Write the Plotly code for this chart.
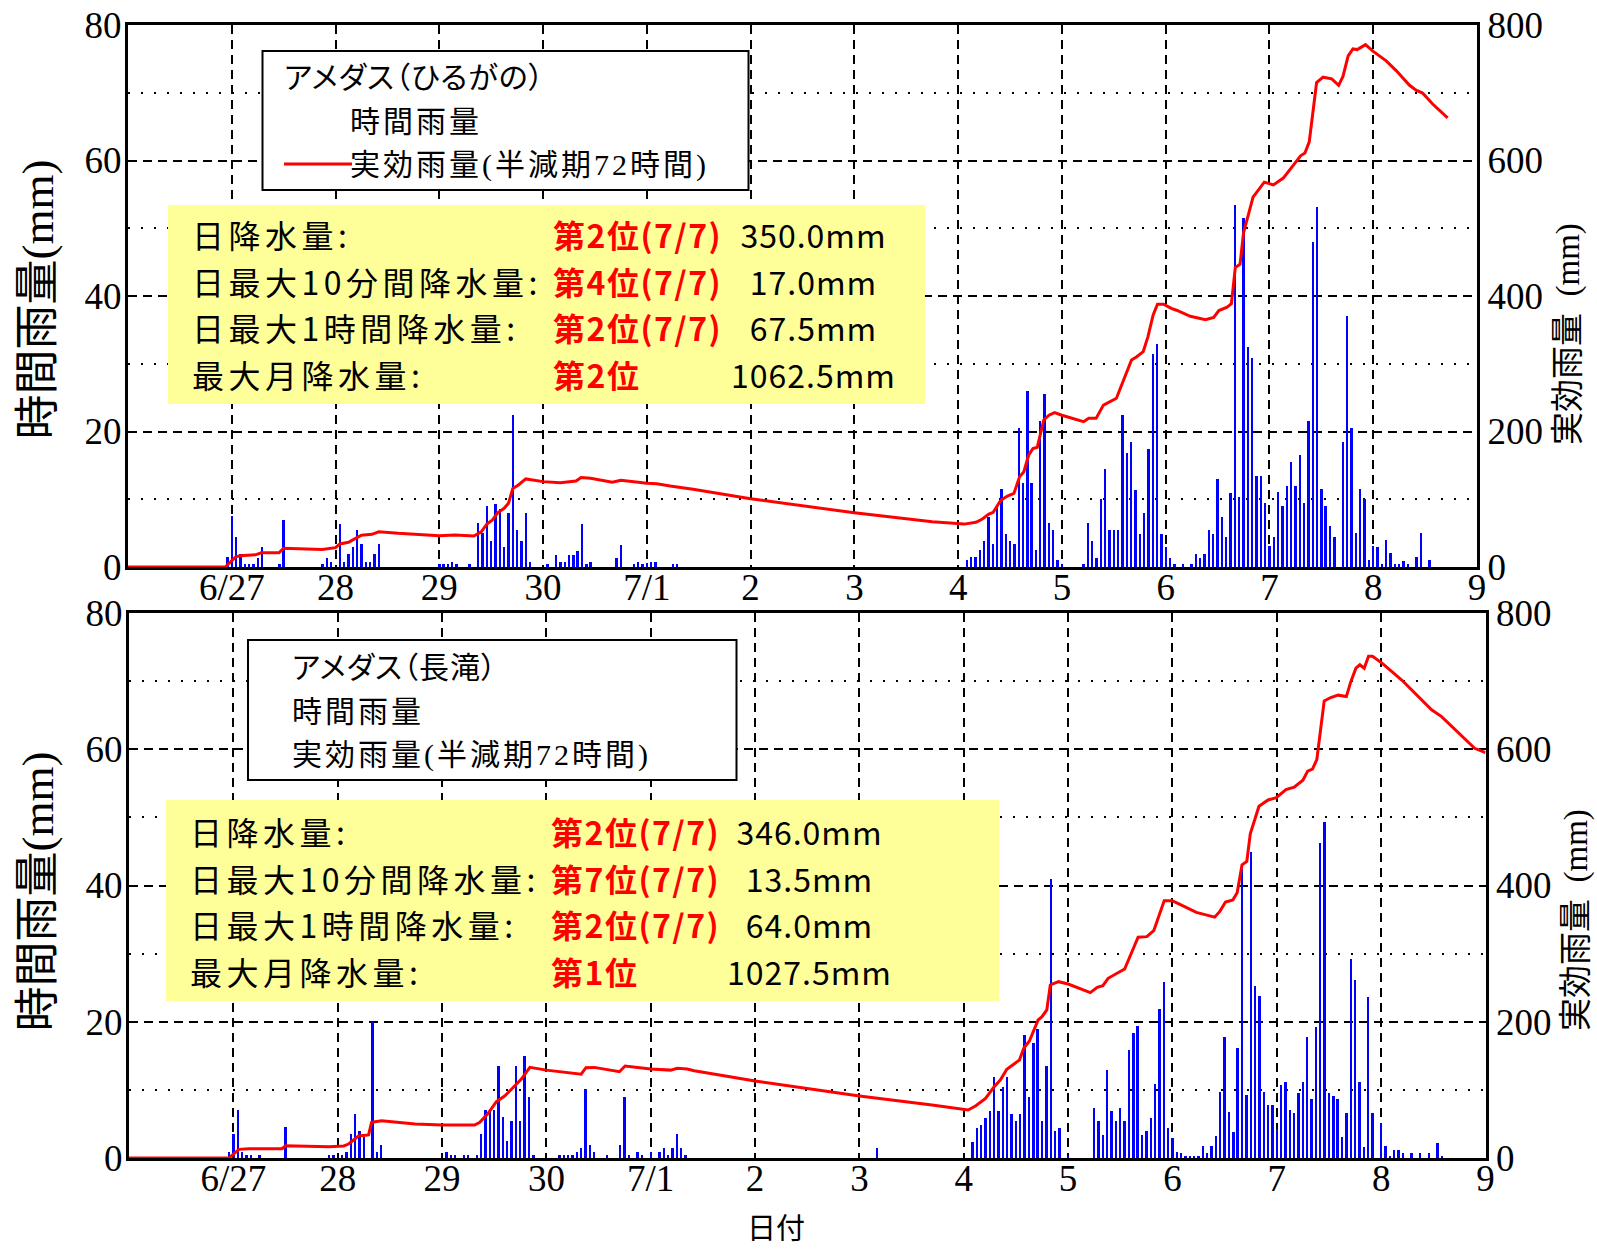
import pandas as pd
import plotly.graph_objects as go

# ---------------------------------------------------------------------------
# Data: hours are counted from 2020-06-26 00:00
# ---------------------------------------------------------------------------
START = pd.Timestamp("2020-06-26")

day_ticks = pd.date_range("2020-06-27", "2020-07-09", freq="D")
day_labels = ["6/27", "28", "29", "30", "7/1", "2", "3", "4", "5", "6", "7", "8", "9"]

# AMeDAS Hirugano - hourly rainfall (mm)
hiru_hour = [23,
             24, 25, 26, 27, 28, 29, 30, 31, 35, 36,
             45, 46, 47,
             49, 50, 51, 52, 53, 54, 55, 56, 57, 58,
             72, 73, 74, 75, 76, 79, 81, 82, 83, 84, 85, 86, 87, 88, 89, 90, 91, 92, 93,
             97, 99, 100, 101, 102, 103, 104, 105, 106, 107, 113, 114, 117, 118, 119,
             120, 121, 122, 126, 127,
             194, 195, 196, 197, 198, 199, 200, 201, 202, 203, 204, 205, 206, 207, 208,
             209, 210, 211, 212, 213, 214, 215,
             216, 221, 222, 223, 224, 225, 226, 227, 228, 229, 230, 231, 232, 233, 234,
             235, 236, 237, 238, 239,
             240, 241, 242, 244, 246, 247, 248, 249, 250, 251, 252, 253, 254, 255, 256,
             257, 258, 259, 260, 261, 262, 263,
             264, 265, 266, 267, 268, 269, 270, 271, 272, 273, 274, 275, 276, 277, 278,
             279, 281, 282, 283, 284, 285, 286, 287,
             288, 289, 290, 291, 292, 293, 294, 295, 296, 298, 299, 301]
hiru_rain = [1.5,
             7.6, 4.5, 1.9, 0.4, 0.4, 0.4, 1.4, 3.0, 0.4, 7.0,
             0.4, 1.3, 0.8,
             6.4, 0.8, 1.9, 2.9, 5.4, 3.4, 0.8, 0.8, 1.9, 3.4,
             0.4, 0.4, 0.4, 0.8, 0.4, 0.4, 6.5, 5.0, 9.0, 3.9, 9.3, 8.6, 2.9, 7.9, 22.5, 5.4, 3.9, 7.9, 0.8,
             0.4, 1.8, 0.8, 0.8, 1.8, 1.8, 2.3, 6.4, 0.4, 0.8, 1.3, 3.3, 0.4, 0.8, 0.4,
             0.6, 0.8, 0.8, 0.4, 0.4,
             1.0, 1.5, 1.5, 2.5, 3.9, 7.4, 3.4, 9.0, 11.5, 4.9, 3.9, 3.4, 20.5, 12.4, 26.0,
             12.4, 2.5, 21.5, 25.5, 6.5, 5.4, 1.0,
             0.5, 0.5, 6.5, 3.9, 1.4, 10.0, 14.4, 5.4, 5.4, 5.4, 22.4, 16.9, 18.4, 11.4, 4.9,
             7.9, 17.4, 31.4, 32.9, 4.9,
             2.9, 1.3, 0.4, 0.4, 0.4, 1.9, 1.4, 1.9, 5.4, 4.9, 13.0, 7.4, 4.4, 10.9, 53.5,
             10.4, 51.5, 32.5, 30.9, 13.4, 13.4, 9.5,
             3.1, 4.4, 11.0, 9.0, 12.0, 15.5, 12.0, 16.5, 9.5, 21.5, 48.0, 53.1, 11.5, 9.0, 6.0,
             4.5, 18.5, 37.0, 20.5, 5.0, 11.5, 10.0, 1.0,
             3.1, 3.0, 0.5, 4.0, 2.0, 0.5, 0.5, 0.9, 0.5, 1.5, 5.0, 1.0]

# AMeDAS Hirugano - effective rainfall, half-life 72 h (mm)
hiru_eff_hour = [0, 22.5, 24.9, 26, 29.5, 30.8, 34.9, 36, 44.9, 48, 49, 51, 52, 54, 56.4,
                 58, 62.5, 72, 75.6, 80, 81.7, 83, 84.3, 85.5, 87, 88, 89, 90.3, 92, 96,
                 100, 103.6, 104.8, 107, 112, 114, 120, 122.3, 125.4, 130.7, 144, 168,
                 186, 192, 193.4, 196.1, 197.6, 199.1, 200.1, 201.8, 203.4, 204.9, 206.2,
                 207.2, 208.3, 209.3, 210.3, 211.8, 213, 214.3, 216, 221, 222.2, 223.9,
                 225.6, 228.6, 229.8, 232.1, 233.3, 234.8, 235.9, 237.1, 238.1, 239.5,
                 241.3, 242.5, 245.7, 249.2, 251.1, 252.3, 254.2, 255.2, 256.1, 257.2,
                 258, 260.2, 262.8, 264.9, 267.2, 269.5, 271.2, 272.2, 273.2, 274.9,
                 276.4, 278.4, 280, 281, 282.2, 283.3, 284.3, 286.2, 288, 291, 293.3,
                 296.4, 297.9, 299.4, 301.8, 305.2]
hiru_eff = [0, 0, 15, 16.7, 18, 21, 21, 27.6, 26, 28.5, 34, 36.4, 40, 46.8, 48.2,
            52, 49.7, 46.3, 47.2, 45.8, 52, 63.5, 69.4, 80, 86.6, 94, 116, 121, 130, 126,
            124.5, 127, 132, 131, 125, 128, 123.5, 123, 119.6, 114.7, 100.8, 80,
            66.9, 63.5, 63.3, 66, 70.8, 78, 80.7, 98, 104.8, 108.7, 133,
            140.7, 165, 175, 176.7, 217, 224, 227.8, 224, 214.5, 219.4, 219.4,
            239, 249, 268.6, 305.5, 310.4, 317.8, 340, 372, 388, 388,
            381.8, 379, 370, 365, 368.4, 378.5, 383.6, 388.6, 442, 447,
            493, 546, 568, 564, 574, 592, 607, 611, 627.5, 715,
            723, 720.5, 711, 724, 754.5, 764.7, 763.7, 771, 761, 747, 732.7,
            711, 703.7, 699.6, 683, 663]

# AMeDAS Nagataki - hourly rainfall (mm)
naga_hour = [23,
             24, 25, 26, 27, 28, 30, 36,
             46, 47,
             49, 50, 51, 52, 53, 54, 56, 57, 58,
             73, 74, 75, 77, 78, 80, 81, 82, 83, 84, 85, 86, 87, 88, 89, 90, 91, 92, 93,
             99, 100, 101, 102, 103, 104, 105, 106, 107, 110, 113, 114, 115, 117, 118,
             120, 122, 123, 124, 125, 126, 127, 128,
             172,
             194, 195, 196, 197, 198, 199, 200, 201, 202, 203, 204, 205, 206, 207, 208,
             209, 210, 211, 212, 213, 214,
             216, 222, 223, 224, 225, 226, 227, 228, 229, 230, 231, 232, 233, 234, 235,
             236, 237, 238, 239,
             240, 241, 242, 243, 244, 245, 246, 247, 248, 249, 250, 251, 252, 253, 254,
             255, 256, 257, 258, 259, 260, 261, 262, 263,
             264, 265, 266, 267, 268, 269, 270, 271, 272, 273, 274, 275, 276, 277, 278,
             279, 280, 281, 282, 283, 284, 285, 286,
             288, 289, 290, 291, 292, 293, 295, 297, 299, 301, 302]
naga_rain = [0.9,
             3.5, 7.0, 0.9, 0.4, 0.4, 0.4, 4.5,
             0.4, 0.4,
             0.4, 0.9, 3.5, 6.4, 3.9, 3.1, 20.0, 0.9, 1.9,
             0.9, 0.4, 0.4, 0.4, 0.4, 0.4, 3.5, 7.0, 7.0, 7.0, 13.5, 6.0, 2.5, 5.4, 13.5, 5.4, 15.0, 9.0, 0.4,
             0.4, 0.4, 0.4, 0.4, 0.9, 1.4, 10.1, 1.9, 0.9, 0.4, 1.9, 9.0, 0.4, 0.9, 0.4,
             0.9, 0.9, 1.4, 0.4, 1.4, 3.5, 1.4, 0.4,
             1.5,
             2.4, 4.4, 4.9, 5.8, 6.9, 11.9, 6.9, 10.4, 11.9, 6.4, 5.4, 6.4, 18.0, 8.9, 16.9,
             18.9, 5.4, 13.5, 41.0, 3.9, 4.4,
             0.3, 7.4, 5.4, 3.4, 12.9, 6.9, 5.4, 7.4, 5.4, 15.9, 18.4, 19.4, 3.4, 3.9, 5.8,
             10.9, 21.9, 25.9, 4.4,
             2.9, 0.9, 0.8, 0.3, 0.3, 0.3, 0.3, 1.7, 0.8, 1.7, 3.2, 9.7, 17.8, 6.8, 3.8,
             16.2, 43.0, 9.3, 44.9, 25.3, 23.8, 9.7, 7.8, 7.8,
             4.2, 10.7, 11.2, 7.1, 6.6, 9.6, 11.2, 17.7, 8.6, 19.2, 46.3, 49.3, 9.6, 9.1, 8.6,
             3.1, 6.6, 29.2, 26.1, 11.2, 1.6, 23.7, 6.6,
             5.2, 1.7, 0.3, 1.2, 1.2, 0.8, 0.8, 0.8, 0.8, 2.2, 0.3]

# AMeDAS Nagataki - effective rainfall, half-life 72 h (mm)
naga_eff_hour = [0, 23, 25.3, 27.6, 35.2, 36, 46, 49.4, 50.5, 51.7, 52.8, 55.1, 55.8,
                 58.1, 65.8, 72, 79.5, 80.7, 82.6, 84.5, 86.4, 87.8, 89.1, 90.2, 92.2,
                 96, 104, 105.1, 107, 112.8, 114.1, 120, 124.6, 126.1, 128.4, 130, 144,
                 168, 184.7, 192, 193, 194.7, 197, 198.9, 200.4, 201.9, 204.8, 205.8,
                 207.1, 209.1, 210, 211.1, 211.9, 213.8, 216, 221.1, 222.7, 224, 225.2,
                 229, 232.1, 234.1, 235.7, 238.1, 239.9, 241, 245.5, 249.7, 250.9, 252.2,
                 253.9, 254.9, 256, 257.1, 257.9, 259.9, 262, 263.9, 266.1, 268, 270,
                 271.1, 272.2, 273.2, 274.9, 276.4, 278.1, 280, 281, 282.2, 283.1, 284.1,
                 285.1, 286, 287.5, 288.2, 292.8, 299.6, 301.9, 309.5, 312]
naga_eff = [0, 0, 12.7, 13.7, 13.7, 18, 16.6, 17.6, 20.5, 27.4, 32.3, 33.8, 52.4,
            54.8, 50, 48.4, 48.4, 52.4, 65.6, 82.7, 91, 99.8, 108.6, 115.5, 133,
            129, 123, 132.5, 133, 126.7, 135, 130.6, 129, 131.6, 130.6, 128, 113,
            91, 77.8, 71.6, 70.5, 76.3, 87.6, 103.8, 114.5, 130.2, 143.9, 161,
            171.8, 202.6, 207.4, 217.3, 254, 258.8, 255.4, 242.7, 250.6, 253, 263.8,
            277.4, 324, 324.9, 333.7, 377.7, 377.7, 374.6, 360.5, 353.5, 362, 375.8,
            378.7, 389.9, 430.4, 435.4, 476, 516.4, 525.5, 529, 540.7, 544.3, 554.5,
            568, 571, 584.7, 670.9, 675.9, 679.4, 677.3, 698.8, 718.9, 724, 718.9,
            736.6, 736.6, 729, 726.5, 701.3, 658, 648, 601.4, 595]

# Records shown in the yellow boxes
stat_labels = ["日降水量:", "日最大10分間降水量:", "日最大1時間降水量:", "最大月降水量:"]
hiru_rank = ["第2位(7/7)", "第4位(7/7)", "第2位(7/7)", "第2位"]
hiru_value = ["350.0mm", "17.0mm", "67.5mm", "1062.5mm"]
naga_rank = ["第2位(7/7)", "第7位(7/7)", "第2位(7/7)", "第1位"]
naga_value = ["346.0mm", "13.5mm", "64.0mm", "1027.5mm"]

# Legend lines
hiru_legend = ["アメダス（ひるがの）", "時間雨量", "実効雨量(半減期72時間)"]
naga_legend = ["アメダス（長滝）", "時間雨量", "実効雨量(半減期72時間)"]

# ---------------------------------------------------------------------------
# Figure
# ---------------------------------------------------------------------------
W, H = 1597, 1249
CJK = "Noto Sans CJK JP"
SERIF = "Liberation Serif, Noto Sans CJK JP"


def px(x):
    return x / W


def py(y):
    return 1 - y / H


def to_time(hours):
    return START + pd.to_timedelta(pd.Series(hours, dtype=float), unit="h")


BAR_W = 0.55 * 3600 * 1000  # bar width in ms

fig = go.Figure()
fig.add_trace(go.Bar(x=to_time(hiru_hour), y=hiru_rain, width=BAR_W,
                     marker=dict(color="#0000FF", line=dict(width=0)),
                     xaxis="x", yaxis="y", showlegend=False))
fig.add_trace(go.Scatter(x=to_time(hiru_eff_hour), y=hiru_eff, mode="lines",
                         line=dict(color="#FF0000", width=3),
                         xaxis="x", yaxis="y2", showlegend=False))
fig.add_trace(go.Bar(x=to_time(naga_hour), y=naga_rain, width=BAR_W,
                     marker=dict(color="#0000FF", line=dict(width=0)),
                     xaxis="x2", yaxis="y3", showlegend=False))
fig.add_trace(go.Scatter(x=to_time(naga_eff_hour), y=naga_eff, mode="lines",
                         line=dict(color="#FF0000", width=3),
                         xaxis="x2", yaxis="y4", showlegend=False))

tick_font = dict(family="Liberation Serif", size=37, color="black")
x_range = [START, day_ticks[-1]]


def x_axis(domain, anchor):
    return dict(domain=domain, anchor=anchor, type="date", range=x_range,
                automargin=False,
                tickmode="array", tickvals=list(day_ticks), ticktext=day_labels,
                ticks="", tickfont=tick_font, ticklabelstandoff=-14,
                showgrid=True, gridcolor="black", gridwidth=2, griddash="9px,6px",
                showline=True, mirror=True, linecolor="black", linewidth=3,
                zeroline=False)


def y_left(domain, anchor):
    return dict(domain=domain, anchor=anchor, range=[0, 80], automargin=False,
                tickmode="array", tickvals=[0, 20, 40, 60, 80],
                ticks="", tickfont=tick_font, ticklabelstandoff=-4,
                showgrid=True, gridcolor="black", gridwidth=2, griddash="9px,6px",
                minor=dict(tickmode="array", tickvals=[10, 30, 50, 70],
                           showgrid=True, gridcolor="black", gridwidth=2,
                           griddash="2px,11px"),
                showline=True, mirror=True, linecolor="black", linewidth=3,
                zeroline=False)


def y_right(overlay, anchor):
    return dict(overlaying=overlay, anchor=anchor, side="right", range=[0, 800],
                automargin=False,
                tickmode="array", tickvals=[0, 200, 400, 600, 800],
                ticks="", tickfont=tick_font, ticklabelstandoff=0,
                showgrid=False, showline=True, linecolor="black", linewidth=3,
                zeroline=False)


top_x = [px(128), px(1477)]
top_y = [py(567), py(25)]
bot_x = [px(129), px(1485.5)]
bot_y = [py(1158), py(613)]

fig.update_layout(
    width=W, height=H, autosize=False,
    margin=dict(l=0, r=0, t=0, b=0, pad=0, autoexpand=False),
    paper_bgcolor="white", plot_bgcolor="white",
    bargap=0, showlegend=False,
    xaxis=x_axis(top_x, "y"),
    yaxis=y_left(top_y, "x"),
    yaxis2=y_right("y", "x"),
    xaxis2=x_axis(bot_x, "y3"),
    yaxis3=y_left(bot_y, "x2"),
    yaxis4=y_right("y3", "x2"),
)

shapes = []
annotations = []


def text(x, y, s, size, color="black", family=CJK, xanchor="left",
         align="left", angle=0):
    annotations.append(dict(x=px(x), y=py(y), xref="paper", yref="paper", text=s,
                            showarrow=False, xanchor=xanchor, yanchor="middle",
                            align=align, textangle=angle,
                            font=dict(family=family, size=size, color=color)))


def rect(x0, y0, x1, y1, fill, line_w):
    shapes.append(dict(type="rect", xref="paper", yref="paper", layer="above",
                       x0=px(x0), x1=px(x1), y0=py(y1), y1=py(y0),
                       fillcolor=fill,
                       line=dict(color="black", width=line_w)))


def span(s, glyph_px, spacing_px, extra=""):
    return '<span style="font-size:%spx;letter-spacing:%spx;%s">%s</span>' % (
        glyph_px, spacing_px, extra, s)


def block(lines, glyph_px, spacing_px, bold=False):
    # one line per row; the annotation's base size sets the row pitch,
    # the inner span sets the glyph size and tracking
    out = []
    for s in lines:
        s = span(s, glyph_px, spacing_px)
        out.append("<b>%s</b>" % s if bold else s)
    return "<br>".join(out)


def legend_block(lines, indent):
    # station name set with proportional kana, the rest with wide tracking
    first = span(lines[0], 30, 1, "font-feature-settings:'palt' 1")
    rest = [span(indent + s, 30, 3) for s in lines[1:]]
    return "<br>".join([first] + rest)


LEG_PITCH = 43.5
STAT_PITCH = 46.5

# Legend boxes
rect(262.5, 51, 748.5, 190, "white", 2)
shapes.append(dict(type="line", xref="paper", yref="paper", layer="above",
                   x0=px(284), x1=px(352), y0=py(164), y1=py(164),
                   line=dict(color="#FF0000", width=3)))
text(282, 121.5, legend_block(hiru_legend, "\u3000\u3000"), LEG_PITCH / 1.3,
     family=SERIF)

rect(248, 640, 736.5, 780, "white", 2)
text(290, 711, legend_block(naga_legend, ""), LEG_PITCH / 1.3, family=SERIF)

# Record boxes
rect(168, 205, 925, 404, "#FFFF99", 0)
rect(166, 800, 999, 1001, "#FFFF99", 0)

base = STAT_PITCH / 1.3
text(190, 304.5, block(stat_labels, 32, 4.5), base)
text(551, 304.5, block(hiru_rank, 32, 1.5, bold=True), base, color="#FF0000")
text(813, 304.5, block(hiru_value, 32, 1), base, xanchor="center", align="center")

text(188, 901, block(stat_labels, 32, 4.5), base)
text(549, 901, block(naga_rank, 32, 1.5, bold=True), base, color="#FF0000")
text(809, 901, block(naga_value, 32, 1), base, xanchor="center", align="center")

# Axis titles
text(37.5, 300, "時間雨量(mm)", 45, family=SERIF, xanchor="center", angle=-90)
text(37.5, 892, "時間雨量(mm)", 45, family=SERIF, xanchor="center", angle=-90)
text(1568, 334, "実効雨量\u00a0\u00a0(mm)", 33, family=SERIF, xanchor="center", angle=-90)
text(1576, 920, "実効雨量\u00a0\u00a0(mm)", 33, family=SERIF, xanchor="center", angle=-90)
text(776, 1226, "日付", 29, xanchor="center")

fig.update_layout(shapes=shapes, annotations=annotations)
fig.write_html("out.html")
